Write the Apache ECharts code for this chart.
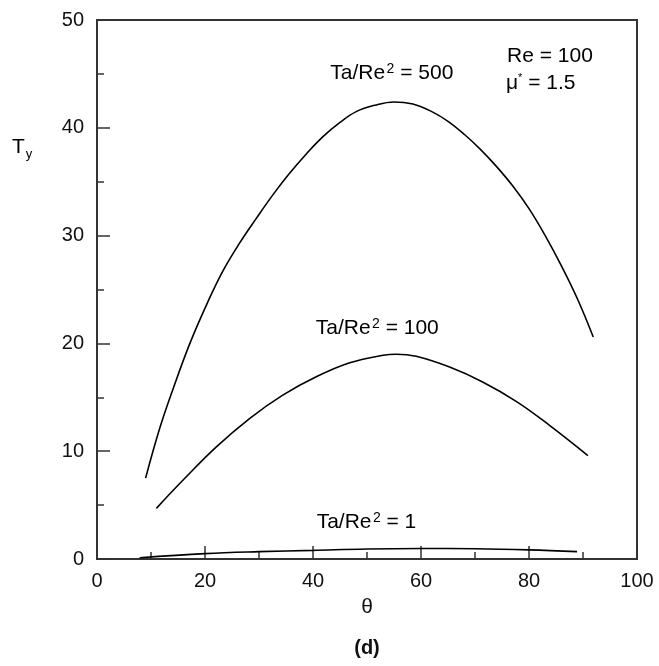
<!DOCTYPE html>
<html>
<head>
<meta charset="utf-8">
<script src="https://cdn.jsdelivr.net/npm/echarts@6/dist/echarts.min.js"></script>
<style>
  html, body { margin: 0; padding: 0; background: #fff; }
  #chart { width: 659px; height: 666px; }
</style>
</head>
<body>
<div id="chart"></div>
<script>
// Yield stress T_y against angle theta for three Taylor-number ratios
const theta500 = [9.0, 11.6, 14.1, 17.2, 20.3, 23.3, 26.4, 29.5, 32.6, 35.7, 38.8, 41.9, 45.0, 48.0, 51.5, 55.0,
                  58.5, 62.0, 65.0, 68.0, 71.0, 74.0, 77.0, 80.0, 83.0, 86.0, 89.0, 91.9];
const ty500    = [7.5, 12.1, 15.8, 20.0, 23.6, 26.7, 29.3, 31.6, 33.8, 35.8, 37.6, 39.2, 40.5, 41.5, 42.1, 42.4,
                  42.2, 41.5, 40.6, 39.4, 38.0, 36.4, 34.6, 32.5, 30.0, 27.2, 24.1, 20.6];

const theta100 = [11.0, 15.9, 22.1, 28.3, 34.4, 40.6, 46.8, 53.0, 55.4, 59.1, 65.3, 71.5, 77.7, 83.8, 90.9];
const ty100    = [4.7, 7.3, 10.4, 13.05, 15.2, 16.9, 18.2, 18.9, 19.0, 18.8, 17.8, 16.4, 14.6, 12.4, 9.6];

const theta1 = [7.9, 20, 30, 40, 50, 60, 70, 80, 88.9];
const ty1    = [0.12, 0.5, 0.68, 0.8, 0.93, 0.97, 0.95, 0.85, 0.68];

const xTicks = [0, 20, 40, 60, 80, 100];
const yTicks = [0, 10, 20, 30, 40, 50];

// Curve labels: ratio text and the data point the label is centred on
const curveLabels = [
  { ratio: '500', at: [54.6, 45.1] },
  { ratio: '100', at: [51.9, 21.4] },
  { ratio: '1',   at: [49.9, 3.45] }
];

const FONT = '"Liberation Sans", Arial, sans-serif';
const INK = '#111';
const AXIS = '#333';

const pairs = (xs, ys) => xs.map((x, i) => [x, ys[i]]);

const chart = echarts.init(document.getElementById('chart'), null, { renderer: 'canvas' });

const lineSeries = (name, xs, ys) => ({
  name,
  type: 'line',
  data: pairs(xs, ys),
  smooth: 0.4,
  showSymbol: false,
  symbol: 'none',
  lineStyle: { color: '#000', width: 1.6 },
  z: 3
});

const axisCommon = {
  type: 'value',
  axisLine: { show: true, lineStyle: { color: AXIS, width: 2 } },
  axisTick: { show: true, inside: true, length: 13, lineStyle: { color: AXIS, width: 1.5 } },
  minorTick: { show: true, splitNumber: 2, length: 7, lineStyle: { color: AXIS, width: 1.5 } },
  splitLine: { show: false }
};

chart.setOption({
  animation: false,
  backgroundColor: '#fff',
  grid: {
    left: 97, top: 20, width: 540, height: 539,
    show: true, borderColor: AXIS, borderWidth: 2, backgroundColor: 'transparent'
  },
  xAxis: Object.assign({}, axisCommon, {
    min: xTicks[0], max: xTicks[xTicks.length - 1], interval: 20,
    axisLabel: {
      margin: 12, fontSize: 20, color: INK, fontFamily: FONT,
      formatter: v => xTicks.includes(v) ? String(v) : ''
    }
  }),
  yAxis: Object.assign({}, axisCommon, {
    min: yTicks[0], max: yTicks[yTicks.length - 1], interval: 10,
    axisLabel: {
      margin: 13, fontSize: 20, color: INK, fontFamily: FONT,
      formatter: v => yTicks.includes(v) ? String(v) : ''
    }
  }),
  series: [
    lineSeries('Ta/Re² = 500', theta500, ty500),
    lineSeries('Ta/Re² = 100', theta100, ty100),
    lineSeries('Ta/Re² = 1', theta1, ty1)
  ]
});

// Rich-text styles shared by the annotations
const rich = {
  m: { fontSize: 21, fontFamily: FONT, color: INK },
  sp: { fontSize: 5, fontFamily: FONT, color: INK },
  sup: { fontSize: 14, fontFamily: FONT, color: INK, verticalAlign: 'top', lineHeight: 22 },
  star: { fontSize: 11, fontFamily: FONT, color: INK, verticalAlign: 'top', lineHeight: 22 }
};

const gridCenterX = 97 + 540 / 2;
const graphics = curveLabels.map(l => {
  const p = chart.convertToPixel({ gridIndex: 0 }, l.at);
  return {
    type: 'text', x: p[0], y: p[1],
    style: {
      text: '{m|Ta/Re}{sp| }{sup|2}{m| = ' + l.ratio + '}',
      rich, textAlign: 'center', textVerticalAlign: 'middle'
    }
  };
});

graphics.push(
  {
    type: 'text', x: 507, y: 56,
    style: { text: '{m|Re = 100}', rich, textAlign: 'left', textVerticalAlign: 'middle' }
  },
  {
    type: 'text', x: 506, y: 83,
    style: { text: '{m|μ}{star|*}{m| = 1.5}', rich, textAlign: 'left', textVerticalAlign: 'middle' }
  },
  {
    type: 'text', x: 12, y: 147,
    style: {
      text: '{t|T}{g| }{y|y}', textAlign: 'left', textVerticalAlign: 'middle',
      rich: {
        t: { fontSize: 21, fontFamily: FONT, color: INK },
        g: { fontSize: 3, fontFamily: FONT },
        y: { fontSize: 13, fontFamily: FONT, color: INK, verticalAlign: 'bottom', lineHeight: 27 }
      }
    }
  },
  {
    type: 'text', x: gridCenterX, y: 607,
    style: { text: 'θ', fill: INK, font: '21px ' + FONT, textAlign: 'center', textVerticalAlign: 'middle' }
  },
  {
    type: 'text', x: gridCenterX, y: 648,
    style: { text: '(d)', fill: INK, font: 'bold 20px ' + FONT, textAlign: 'center', textVerticalAlign: 'middle' }
  }
);

chart.setOption({ graphic: graphics });
</script>
</body>
</html>
